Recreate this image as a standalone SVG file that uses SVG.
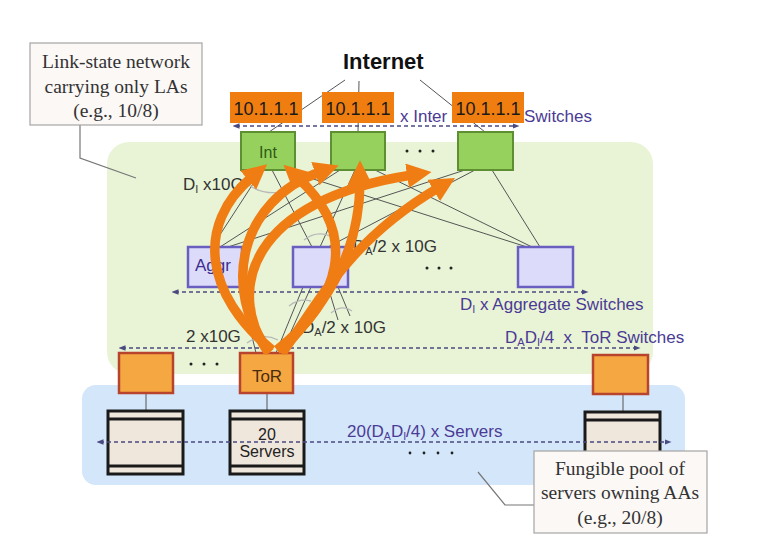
<svg xmlns="http://www.w3.org/2000/svg" width="765" height="558" viewBox="0 0 765 558">
<defs>
<style>
.lbl{font-family:"Liberation Sans",Arial,sans-serif;font-size:17px;fill:#333}
.pur{font-family:"Liberation Sans",Arial,sans-serif;font-size:17px;fill:#4b3b95}
.ctx{font-family:"Liberation Serif","Times New Roman",serif;font-size:19.5px;fill:#333;text-anchor:middle}
.int{fill:#95d15c;stroke:#5e8f33;stroke-width:2}
.agg{fill:#dcdcfa;stroke:#6a5fc1;stroke-width:2.5}
.tor{fill:#f5a742;stroke:#b8442e;stroke-width:2.5}
.ip{fill:#f07d0f}
.iptx{font-family:"Liberation Sans",Arial,sans-serif;font-size:18px;fill:#1a1a1a;text-anchor:middle}
.srv{fill:#f0e7dc;stroke:#1a1a1a;stroke-width:3}
.srvl{stroke:#1a1a1a;stroke-width:3}
.wire{stroke:#555;stroke-width:1;fill:none}
.arc{stroke:#b8b8b8;stroke-width:1.3;fill:none}
.dash{stroke:#4a4a80;stroke-width:1.3;stroke-dasharray:4 3;fill:none}
.big{stroke:#f07d14;stroke-width:9.5;fill:none}
.callout{fill:#fbf8f6;stroke:#a5a5a5;stroke-width:1.2}
.lead{stroke:#777;stroke-width:1.2;fill:none}
.dot{fill:#222}
</style>
<marker id="oa" viewBox="0 0 10 10" refX="2" refY="5" markerWidth="2.6" markerHeight="2.6" orient="auto"><path d="M0,0 L10,5 L0,10 z" fill="#f07d14"/></marker>
<marker id="da" viewBox="0 0 10 10" refX="5" refY="5" markerWidth="7" markerHeight="7" orient="auto-start-reverse" markerUnits="userSpaceOnUse"><path d="M0,1 L10,5 L0,9 z" fill="#4a4a80"/></marker>
</defs>
<rect width="765" height="558" fill="#ffffff"/>

<g id="regions">
<rect id="la-region" x="107" y="142" width="546" height="232" rx="22" fill="#e8f4d5"/>
<rect id="aa-region" x="82" y="385" width="603" height="100" rx="14" fill="#d3e6fa"/>
</g>

<g id="connectors">
<path class="lead" d="M80,125 L80,158 L136,178"/>
<path class="lead" d="M478,472 L505,505 L534,505"/>
<line class="wire" x1="345" y1="80" x2="269" y2="132"/>
<line class="wire" x1="359" y1="81" x2="358" y2="132"/>
<line class="wire" x1="420" y1="80" x2="485" y2="132"/>
<line class="wire" x1="262" y1="170" x2="212" y2="247"/>
<line class="wire" x1="272" y1="170" x2="312" y2="247"/>
<line class="wire" x1="285" y1="170" x2="527" y2="247"/>
<line class="wire" x1="340" y1="170" x2="220" y2="247"/>
<line class="wire" x1="355" y1="170" x2="320" y2="247"/>
<line class="wire" x1="375" y1="170" x2="532" y2="247"/>
<line class="wire" x1="465" y1="170" x2="228" y2="247"/>
<line class="wire" x1="475" y1="170" x2="328" y2="247"/>
<line class="wire" x1="492" y1="170" x2="540" y2="247"/>
<line class="wire" x1="240" y1="287" x2="256" y2="353"/>
<line class="wire" x1="303" y1="287" x2="276" y2="353"/>
<line class="wire" x1="311" y1="287" x2="285" y2="345"/>
<line class="wire" x1="328" y1="287" x2="338" y2="320"/>
<line class="wire" x1="338" y1="287" x2="350" y2="316"/>
<path class="arc" d="M250,186 Q268,197 290,190"/>
<path class="arc" d="M304,240 Q318,229 334,238"/>
<path class="arc" d="M289,306 Q299,298 311,301"/>
<path class="arc" d="M331,313 Q342,304 352,311"/>
<path class="arc" d="M247,343 Q262,332 278,340"/>
<line class="wire" x1="146" y1="393" x2="146" y2="411"/>
<line class="wire" x1="267" y1="393" x2="267" y2="411"/>
<line class="wire" x1="623" y1="394" x2="623" y2="412"/>
</g>

<g id="linkstate-callout">
<rect class="callout" x="30" y="43" width="172" height="82"/>
<text class="ctx" x="116" y="68">Link-state network</text>
<text class="ctx" x="116" y="93">carrying only LAs</text>
<text class="ctx" x="116" y="117">(e.g., 10/8)</text>
</g>

<text id="internet" x="343" y="69" font-family="Liberation Sans, Arial, sans-serif" font-size="22" font-weight="bold" fill="#111">Internet</text>

<g id="int-row-label">
<path class="dash" d="M236,126 L516,126" marker-start="url(#da)" marker-end="url(#da)"/>
<text class="pur" x="400" y="122" font-size="16">x Inter</text>
<text class="pur" x="524" y="122" font-size="16">Switches</text>
</g>

<g id="int1"><rect class="int" x="241" y="132" width="54" height="38"/><text x="268" y="158" font-family="Liberation Sans, Arial, sans-serif" font-size="16" fill="#2f5a18" text-anchor="middle">Int</text></g>
<g id="int2"><rect class="int" x="331" y="132" width="54" height="38"/></g>
<g id="int3"><rect class="int" x="458" y="132" width="55" height="38"/></g>
<g id="int-dots"><circle class="dot" cx="407" cy="151" r="1.5"/><circle class="dot" cx="420" cy="151" r="1.5"/><circle class="dot" cx="433" cy="151" r="1.5"/></g>

<g id="ip1"><rect class="ip" x="230" y="92" width="72" height="31"/><text class="iptx" x="266" y="115">10.1.1.1</text></g>
<g id="ip2"><rect class="ip" x="322" y="92" width="72" height="31"/><text class="iptx" x="358" y="115">10.1.1.1</text></g>
<g id="ip3"><rect class="ip" x="452" y="92" width="72" height="31"/><text class="iptx" x="488" y="115">10.1.1.1</text></g>

<g id="agg1"><rect class="agg" x="188" y="247" width="54" height="40"/><text x="195" y="271" font-family="Liberation Sans, Arial, sans-serif" font-size="17" fill="#3c2f8f">Aggr</text></g>
<g id="agg2"><rect class="agg" x="293" y="247" width="55" height="40"/></g>
<g id="agg3"><rect class="agg" x="518" y="247" width="55" height="40"/></g>
<g id="agg-dots"><circle class="dot" cx="427" cy="268" r="1.5"/><circle class="dot" cx="439" cy="268" r="1.5"/><circle class="dot" cx="451" cy="268" r="1.5"/></g>

<g id="agg-row-label">
<path class="dash" d="M175,292 L585,292" marker-start="url(#da)" marker-end="url(#da)"/>
<text class="pur" x="460" y="310">D<tspan font-size="11" dy="3">I</tspan><tspan dy="-3"> x Aggregate Switches</tspan></text>
</g>

<g id="tor-row-label">
<path class="dash" d="M122,348 L637,348" marker-start="url(#da)" marker-end="url(#da)"/>
<text class="pur" x="505" y="343" xml:space="preserve">D<tspan font-size="11" dy="3">A</tspan><tspan dy="-3">D</tspan><tspan font-size="11" dy="3">I</tspan><tspan dy="-3">/4  x  ToR Switches</tspan></text>
</g>

<g id="link-labels">
<text class="lbl" x="183" y="190">D<tspan font-size="11" dy="3">I</tspan><tspan dy="-3"> x10G</tspan></text>
<text class="lbl" x="353" y="252">D<tspan font-size="11" dy="3">A</tspan><tspan dy="-3">/2 x 10G</tspan></text>
<text class="lbl" x="302" y="333">D<tspan font-size="11" dy="3">A</tspan><tspan dy="-3">/2 x 10G</tspan></text>
<text class="lbl" x="186" y="342">2 x10G</text>
</g>

<g id="tor1"><rect class="tor" x="119" y="353" width="54" height="40"/></g>
<g id="tor2"><rect class="tor" x="240" y="353" width="53" height="40"/><text x="267" y="382" font-family="Liberation Sans, Arial, sans-serif" font-size="17" fill="#4a2c12" text-anchor="middle">ToR</text></g>
<g id="tor3"><rect class="tor" x="593" y="355" width="55" height="39"/></g>
<g id="tor-dots"><circle class="dot" cx="191" cy="364" r="1.5"/><circle class="dot" cx="204" cy="364" r="1.5"/><circle class="dot" cx="217" cy="364" r="1.5"/></g>

<g id="srv1"><rect class="srv" x="108" y="411" width="75" height="63"/><line class="srvl" x1="108" y1="419" x2="183" y2="419"/><line class="srvl" x1="108" y1="466" x2="183" y2="466"/></g>
<g id="srv2"><rect class="srv" x="230" y="411" width="74" height="63"/><line class="srvl" x1="230" y1="419" x2="304" y2="419"/><line class="srvl" x1="230" y1="466" x2="304" y2="466"/></g>
<g id="srv3"><rect class="srv" x="585" y="412" width="75" height="63"/><line class="srvl" x1="585" y1="420" x2="660" y2="420"/></g>

<g id="srv-row-label">
<path class="dash" d="M100,442 L668,442" marker-start="url(#da)" marker-end="url(#da)"/>
<text class="pur" x="347" y="437" font-size="16">20(D<tspan font-size="10.5" dy="3">A</tspan><tspan dy="-3">D</tspan><tspan font-size="10.5" dy="3">I</tspan><tspan dy="-3">/4) x Servers</tspan></text>
<circle class="dot" cx="410" cy="453" r="1.4"/><circle class="dot" cx="424" cy="453" r="1.4"/><circle class="dot" cx="438" cy="453" r="1.4"/><circle class="dot" cx="452" cy="453" r="1.4"/>
</g>
<text x="267" y="440" font-family="Liberation Sans, Arial, sans-serif" font-size="16" fill="#222" text-anchor="middle">20</text>
<text x="267" y="457" font-family="Liberation Sans, Arial, sans-serif" font-size="16" fill="#222" text-anchor="middle">Servers</text>

<g id="fungible-callout">
<rect class="callout" x="534" y="451" width="173" height="82"/>
<text class="ctx" x="620" y="475">Fungible pool of</text>
<text class="ctx" x="620" y="499">servers owning AAs</text>
<text class="ctx" x="620" y="524">(e.g., 20/8)</text>
</g>

<g id="flows">
<path class="big" d="M272,350 C205,295 195,225 252,177" marker-end="url(#oa)"/>
<path class="big" d="M277,350 C340,300 360,235 298,178" marker-end="url(#oa)"/>
<path class="big" d="M270,352 C220,290 240,200 320,172" marker-end="url(#oa)"/>
<path class="big" d="M280,352 C330,300 360,250 360,180" marker-end="url(#oa)"/>
<path class="big" d="M268,352 C225,290 250,200 412,175" marker-end="url(#oa)"/>
<path class="big" d="M283,352 C320,300 350,240 438,188" marker-end="url(#oa)"/>
</g>
</svg>
